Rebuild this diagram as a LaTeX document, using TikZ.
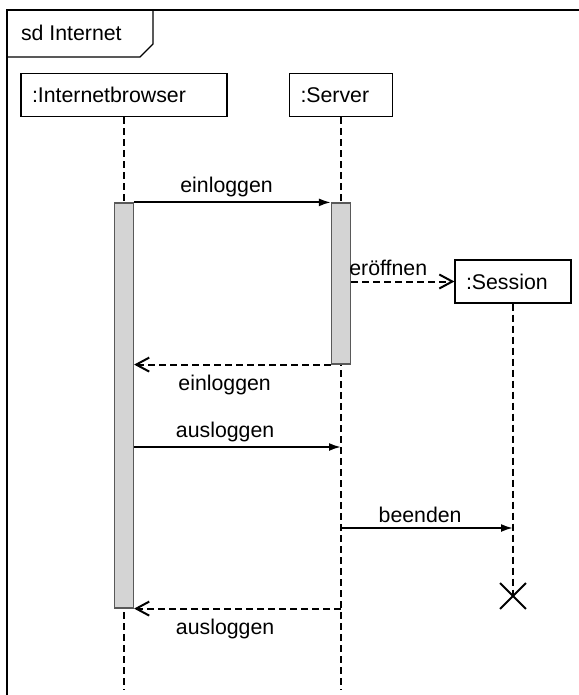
\documentclass[tikz,border=0pt]{standalone}
\usepackage{fontspec}
\setmainfont{Liberation Sans}
\usetikzlibrary{arrows.meta,positioning,shapes.misc}

\tikzset{
  lbl/.style={font=\fontsize{21.3}{25}\selectfont},
  object/.style={draw, line width=1.2pt, lbl, minimum height=43pt, inner xsep=11pt, align=left},
  lifeline/.style={line width=2.2pt, dash pattern=on 7pt off 4pt},
  activation/.style={draw=black!65, fill=black!17, line width=1.2pt, minimum width=19pt, inner sep=0pt},
  call/.style={line width=2pt, -{Latex[length=12pt,width=8pt]}},
  reply/.style={line width=2pt, dash pattern=on 7pt off 4pt, -{Straight Barb[length=13pt,width=14pt]}},
}

\begin{document}
\begin{tikzpicture}[x=1pt, y=-1pt]
  \useasboundingbox (0,0) rectangle (578,695);
  % Frame
  \draw[line width=1.2pt] (7,700) -- (7,10) -- (585,10);
  \draw[line width=1.2pt] (7,57) -- (140,57) -- (153,44) -- (153,10);
  \node[lbl, anchor=west] (title) at (17.5,33) {sd Internet};
  % Objects
  \node[object, text width=184pt] (browser) at (124,95) {:Internetbrowser};
  \node[object, text width=81pt] (server) at (341,95) {:Server};
  \node[object, text width=94pt] (session) at (513,281.5) {:Session};
  % Lifelines
  \coordinate (browser-end) at (124,690);
  \coordinate (server-end) at (341,690);
  \coordinate (session-end) at (513,596);
  \foreach \obj in {browser, server, session} {
    \draw[lifeline] (\obj.south) -- (\obj-end);
  }
  \node[draw, cross out, line width=1.8pt, minimum size=24pt, inner sep=0pt] (destroy) at (session-end) {};
  % Activations
  \node[activation, minimum height=405pt] (browserAct) at (124,405.5) {};
  \node[activation, minimum height=161pt] (serverAct) at (341,283.5) {};
  % Message rows
  \coordinate (logout) at (0,447);
  \coordinate (quit) at (0,528);
  % Messages
  \draw[call] (browserAct.north east) -- node[lbl, above=1pt, pos=0.47] (login-call) {einloggen} (serverAct.north west);
  \draw[reply] (serverAct.east |- session.west) -- node[lbl, above=1pt, pos=0.36] (open-call) {eröffnen} (session.west);
  \draw[reply] (serverAct.south west) -- node[lbl, below=6pt, pos=0.54] (login-reply) {einloggen}
    (browserAct.east |- serverAct.south);
  \draw[call] (browserAct.east |- logout) -- node[lbl, above=1pt, pos=0.44] (logout-call) {ausloggen} (server |- logout);
  \draw[call] (server |- quit) -- node[lbl, above=1pt, pos=0.46] (quit-call) {beenden} (session |- quit);
  \draw[reply] (server |- browserAct.south) -- node[lbl, below=6pt, pos=0.56] (logout-reply) {ausloggen}
    (browserAct.south east);
\end{tikzpicture}
\end{document}
